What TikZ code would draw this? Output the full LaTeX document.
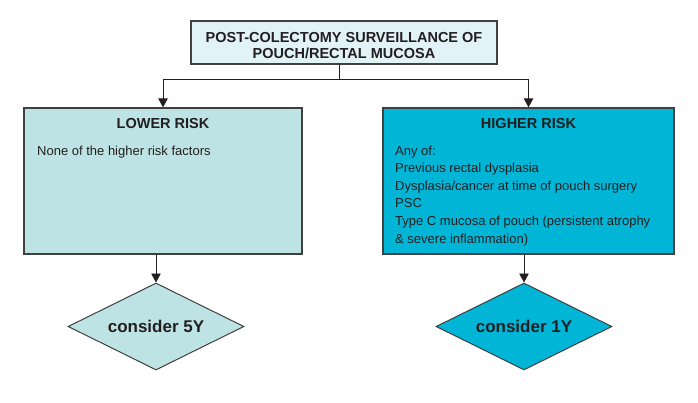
\documentclass[tikz,border=0pt]{standalone}
\usepackage{fontspec}
\setmainfont{Liberation Sans}
\usetikzlibrary{arrows.meta,shapes.geometric}

\definecolor{inktext}{HTML}{231F20}
\definecolor{titlefill}{HTML}{E1F3F7}
\definecolor{lowfill}{HTML}{BEE3E5}
\definecolor{highfill}{HTML}{00B5D6}
\definecolor{boxline}{HTML}{404040}

\begin{document}
\begin{tikzpicture}[x=1pt,y=-1pt,
  box/.style={draw=boxline,line width=1.3pt,inner sep=0pt},
  decision/.style={diamond,draw=boxline,line width=1pt,inner sep=0pt,aspect=2,
    minimum width=176pt,minimum height=87pt,
    font=\fontsize{17}{20}\selectfont\bfseries,text=inktext},
  head/.style={anchor=base,inner sep=0pt,font=\fontsize{14.5}{17}\selectfont\bfseries,text=inktext},
  item/.style={anchor=base west,inner sep=0pt,font=\fontsize{13}{16}\selectfont,text=inktext},
  arr/.style={draw=inktext,line width=0.9pt,-{Triangle[length=9pt,width=9.5pt]}}]

\useasboundingbox (0,0) rectangle (698,402);

% boxes
\node[box,fill=titlefill,minimum width=306pt,minimum height=43pt] (title) at (344,42.5) {};
\node[box,fill=lowfill,minimum width=278pt,minimum height=146pt] (lowbox) at (163,181) {};
\node[box,fill=highfill,minimum width=291pt,minimum height=146pt] (highbox) at (528.5,181) {};

% title text
\node[head] (title1) at (344,42) {POST-COLECTOMY SURVEILLANCE OF};
\node[head] (title2) at (344,58) {POUCH/RECTAL MUCOSA};

% lower risk
\node[head] (lowhead) at (163,128) {LOWER RISK};
\node[item] (low1) at (37,155) {None of the higher risk factors};

% higher risk
\node[head] (highhead) at (528.5,128) {HIGHER RISK};
\foreach \line [count=\i] in {Any of:,Previous rectal dysplasia,Dysplasia/cancer at time of pouch surgery,PSC,Type C mucosa of pouch (persistent atrophy,\& severe inflammation)}
  \node[item] (high\i) at (395,{155+17.6*(\i-1)}) {\line};

% decisions
\node[decision,fill=lowfill] (lowdia) at (156,326.5) {consider 5Y};
\node[decision,fill=highfill] (highdia) at (524,326.5) {consider 1Y};

% connectors
\coordinate (split) at (339,79);
\draw[draw=inktext,line width=0.9pt] (title.south -| split) -- (split);
\draw[arr] (split) -| (lowbox.north);
\draw[arr] (split) -| (highbox.north);
\draw[arr] (lowdia.north |- lowbox.south) -- (lowdia.north);
\draw[arr] (highdia.north |- highbox.south) -- (highdia.north);

\end{tikzpicture}
\end{document}
